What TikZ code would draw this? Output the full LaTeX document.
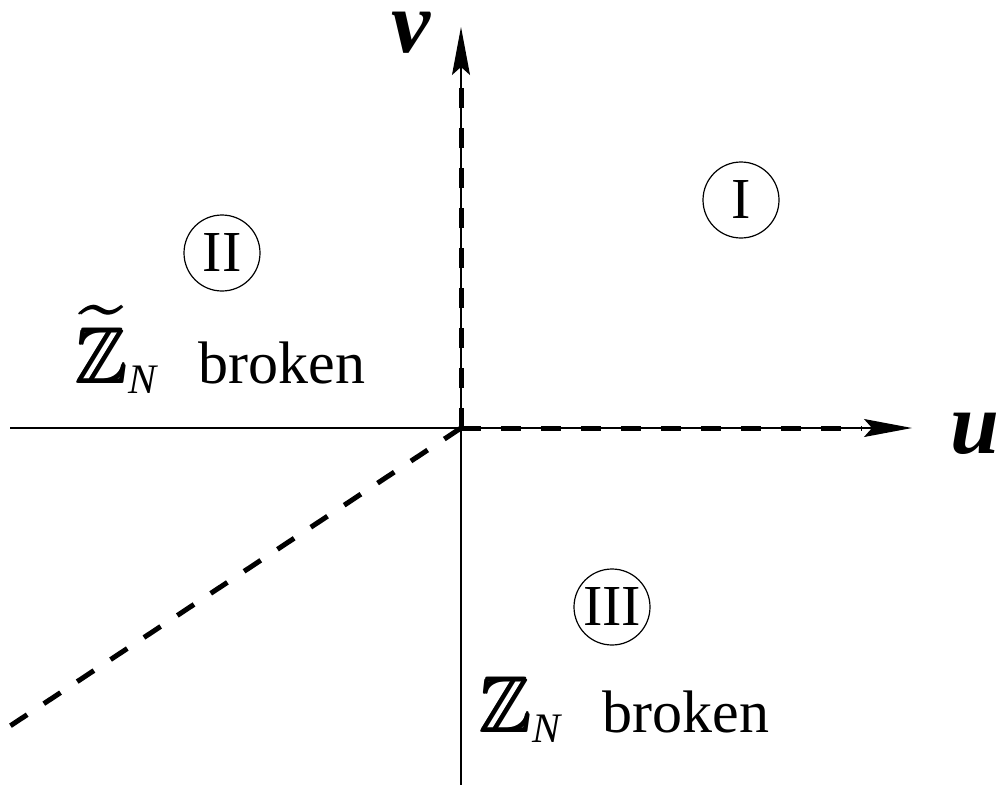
\documentclass[tikz,border=0pt]{standalone}
\usepackage{amsmath}
\usepackage{amssymb}
\usepackage{fontspec}
\setmainfont{Liberation Serif}
\newfontfamily\tms{Liberation Serif}
\usetikzlibrary{arrows.meta}
\newcommand{\bbZ}{{\fontsize{39}{44}\selectfont$\pmb{\mathbb{Z}}$}}
\newcommand{\tbbZ}{{\fontsize{39}{44}\selectfont$\pmb{\widetilde{\mathbb{Z}}}$}}
\newcommand{\subN}{\raisebox{-5pt}{\tms\itshape\fontsize{21}{24}\selectfont N}}
\begin{document}
\begin{tikzpicture}[x=0.5pt,y=-0.5pt,
  thinaxis/.style={line width=0.6pt, -{Stealth[length=24pt,width=9pt,inset=4pt]}},
  thinline/.style={line width=0.6pt},
  thickdash/.style={line width=2.5pt, dash pattern=on 10pt off 10pt},
  region/.style={circle, draw, line width=0.6pt, inner sep=0pt, minimum size=38pt, font=\tms\fontsize{29}{34}\selectfont},
  axlabel/.style={anchor=base, inner sep=0pt, font=\tms\fontsize{44}{48}\selectfont\bfseries\itshape},
  phase/.style={anchor=base west, inner sep=0pt, font=\tms\fontsize{30}{34}\selectfont}]
\useasboundingbox (0,0) rectangle (1000,787);
\coordinate (O) at (461,428);
\coordinate (L) at (10,428);
\coordinate (R) at (912,428);
\coordinate (T) at (461,27);
\coordinate (B) at (461,785);
\coordinate (Re) at (862,428);
\coordinate (Te) at (461,75);
\coordinate (D) at (10,726);
% thin axes
\draw[thinline] (L) -- (O);
\draw[thinline] (O) -- (B);
\draw[thinaxis] (O) -- (R);
\draw[thinaxis] (O) -- (T);
% thick dashed
\draw[thickdash] (O) -- (Re);
\draw[thickdash] (O) -- (Te);
\draw[thickdash] (O) -- (D);
% labels
\node[axlabel] (u) at (975,453) {u};
\node[axlabel] (v) at (411,52) {v};
\node[region] (r1) at (741,200) {I};
\node[region] (r2) at (222,253) {II};
\node[region] (r3) at (612,607) {III};
\node[phase] (z2) at (76,383) {\tbbZ\subN\hspace{0.7em}broken};
\node[phase] (z3) at (480,732) {\bbZ\subN\hspace{0.7em}broken};
\end{tikzpicture}
\end{document}
